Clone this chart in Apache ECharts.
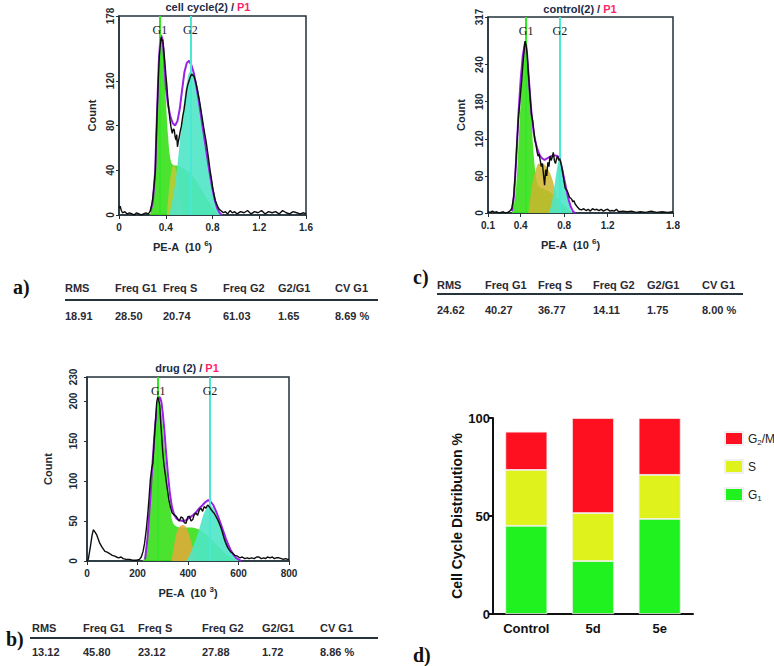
<!DOCTYPE html>
<html><head><meta charset="utf-8">
<script src="https://cdn.jsdelivr.net/npm/echarts@6/dist/echarts.min.js"></script>
<style>html,body{margin:0;padding:0;background:#fff}#c{width:774px;height:666px}</style>
</head><body><div id="c"></div>
<script>
// ---------------- DATA ----------------
// Panel a: cell cycle(2) / P1   (x in 10^6, y = count)
const aBlack = [[0,6],[0.01,8],[0.02,4],[0.03,2],[0.05,3],[0.07,1],[0.09,2],[0.11,1],[0.13,0],[0.15,2],[0.17,1],[0.19,0],[0.21,1],[0.23,2],[0.25,1],[0.265,3],[0.28,9],[0.29,16],[0.30,26],[0.31,38],[0.317,62],[0.325,88],[0.334,115],[0.345,142],[0.353,152],[0.36,159],[0.367,156],[0.374,157],[0.381,150],[0.388,142],[0.395,133],[0.402,124],[0.41,115],[0.416,106],[0.425,96],[0.436,85],[0.446,78],[0.456,73],[0.465,77],[0.473,76],[0.48,70],[0.488,67],[0.494,72],[0.5,61],[0.508,66],[0.516,70],[0.524,75],[0.533,79],[0.545,88],[0.556,94],[0.568,103],[0.579,112],[0.59,117],[0.602,121],[0.612,124],[0.622,126],[0.632,125],[0.642,124],[0.654,120],[0.665,115],[0.676,109],[0.687,103],[0.698,96],[0.71,88],[0.722,80],[0.733,73],[0.745,66],[0.756,58],[0.768,49],[0.779,40],[0.79,33],[0.801,25],[0.812,19],[0.824,13],[0.835,10],[0.847,7],[0.858,5],[0.87,4],[0.882,3],[0.893,2],[0.91,3],[0.93,1],[0.95,4],[0.97,2],[0.99,3],[1.01,1],[1.04,3],[1.07,2],[1.1,4],[1.13,1],[1.16,3],[1.19,2],[1.22,4],[1.25,1],[1.28,3],[1.31,2],[1.34,3],[1.37,1],[1.4,4],[1.43,2],[1.46,1],[1.49,3],[1.52,2],[1.55,1],[1.58,2],[1.6,1]];
const aFit = [[0.27,3],[0.29,12],[0.31,40],[0.325,90],[0.34,135],[0.35,152],[0.36,161],[0.37,158],[0.38,148],[0.39,132],[0.40,115],[0.42,98],[0.44,88],[0.46,82],[0.48,80],[0.50,84],[0.52,95],[0.54,112],[0.56,128],[0.58,136],[0.60,138],[0.62,134],[0.64,127],[0.66,116],[0.68,104],[0.70,90],[0.72,76],[0.74,62],[0.76,48],[0.78,35],[0.80,23],[0.82,13],[0.84,6],[0.86,2],[0.88,0]];
const aG1 = [[0.26,0],[0.28,5],[0.30,20],[0.32,70],[0.335,120],[0.35,150],[0.36,158],[0.37,155],[0.385,135],[0.40,105],[0.42,70],[0.44,50],[0.46,45],[0.50,44],[0.55,42],[0.60,38],[0.65,32],[0.70,24],[0.75,15],[0.80,7],[0.84,2],[0.86,0]];
const aS = [[0.41,0],[0.43,25],[0.45,40],[0.47,45],[0.49,40],[0.51,28],[0.53,12],[0.55,0]];
const aG2 = [[0.43,0],[0.46,15],[0.49,35],[0.52,65],[0.55,95],[0.58,118],[0.61,128],[0.64,126],[0.67,116],[0.70,98],[0.73,76],[0.76,53],[0.79,32],[0.82,15],[0.85,5],[0.88,0]];
const aMarkers = [0.351, 0.613];

// Panel c: control(2) / P1
const cBlack = [[0.10,2],[0.12,1],[0.14,3],[0.16,1],[0.18,2],[0.20,0],[0.22,1],[0.24,2],[0.26,0],[0.28,1],[0.30,3],[0.32,8],[0.335,25],[0.35,60],[0.365,110],[0.38,155],[0.395,185],[0.41,215],[0.425,250],[0.44,278],[0.45,272],[0.46,255],[0.47,228],[0.48,205],[0.49,180],[0.50,160],[0.51,150],[0.52,135],[0.53,118],[0.54,112],[0.55,100],[0.56,92],[0.57,95],[0.58,85],[0.59,75],[0.60,80],[0.61,62],[0.62,45],[0.63,70],[0.64,60],[0.65,82],[0.66,75],[0.67,92],[0.68,85],[0.69,90],[0.70,98],[0.71,85],[0.72,80],[0.73,88],[0.74,92],[0.75,85],[0.76,88],[0.77,80],[0.78,72],[0.79,62],[0.80,50],[0.81,40],[0.82,38],[0.83,35],[0.84,30],[0.85,25],[0.86,24],[0.87,22],[0.88,18],[0.89,20],[0.90,15],[0.92,10],[0.94,6],[0.96,5],[0.98,7],[1.0,4],[1.02,6],[1.04,3],[1.06,7],[1.08,5],[1.1,6],[1.12,4],[1.14,6],[1.16,3],[1.18,5],[1.2,6],[1.22,3],[1.24,4],[1.26,3],[1.28,6],[1.3,2],[1.34,3],[1.38,2],[1.42,3],[1.46,1],[1.5,2],[1.55,1],[1.6,3],[1.65,1],[1.7,2],[1.75,1],[1.8,2]];
const cFit = [[0.32,3],[0.34,30],[0.36,90],[0.38,160],[0.40,215],[0.42,255],[0.44,275],[0.45,272],[0.46,255],[0.48,205],[0.50,160],[0.52,130],[0.54,112],[0.56,100],[0.58,92],[0.60,88],[0.62,86],[0.64,88],[0.66,90],[0.68,92],[0.70,93],[0.72,93],[0.74,92],[0.76,86],[0.78,72],[0.80,55],[0.82,38],[0.84,22],[0.86,10],[0.88,3],[0.90,0]];
const cG1 = [[0.32,0],[0.34,15],[0.36,45],[0.38,110],[0.40,180],[0.42,240],[0.44,270],[0.45,272],[0.46,262],[0.48,215],[0.50,150],[0.52,95],[0.54,60],[0.56,45],[0.60,40],[0.65,36],[0.70,30],[0.75,22],[0.80,12],[0.85,4],[0.88,0]];
const cS = [[0.47,0],[0.49,25],[0.51,50],[0.54,70],[0.57,80],[0.60,80],[0.63,76],[0.66,68],[0.69,55],[0.72,35],[0.75,15],[0.78,0]];
const cG2 = [[0.66,0],[0.69,20],[0.72,55],[0.745,82],[0.762,90],[0.78,80],[0.80,60],[0.82,38],[0.84,18],[0.86,5],[0.88,0]];
const cMarkers = [0.446, 0.762];

// Panel b: drug (2) / P1   (x in 10^3)
const bBlack = [[0,0],[5,2],[12,15],[20,32],[25,39],[30,37],[38,33],[45,27],[51,22],[60,17],[71,12],[80,11],[91,9],[100,7],[110,6],[117,5],[125,4],[135,5],[143,3],[155,2],[169,2],[180,1],[196,1],[208,2],[215,5],[222,12],[228,22],[235,40],[241,60],[246,80],[251,102],[256,115],[261,123],[266,150],[272,178],[276,198],[280,205],[285,200],[288,195],[291,178],[296,155],[300,136],[305,120],[311,106],[318,90],[324,77],[330,68],[337,60],[345,58],[353,56],[360,52],[366,50],[372,55],[379,54],[385,48],[392,47],[399,55],[406,56],[412,50],[419,52],[425,58],[432,60],[438,57],[445,64],[451,66],[458,62],[464,68],[471,66],[478,70],[484,68],[490,65],[497,62],[503,60],[510,56],[517,52],[524,47],[530,42],[537,35],[543,28],[550,22],[557,17],[563,14],[570,11],[576,10],[586,7],[596,6],[605,4],[615,5],[625,3],[635,4],[642,3],[652,4],[662,3],[672,5],[681,5],[690,3],[700,4],[707,3],[715,5],[725,4],[734,5],[742,3],[750,4],[760,4],[770,3],[778,2],[786,3],[795,2],[800,2]];
const bFit = [[230,2],[240,30],[250,75],[260,125],[270,170],[278,195],[285,205],[290,204],[295,198],[300,185],[306,165],[312,140],[320,110],[328,85],[336,68],[345,58],[355,53],[365,51],[379,50],[392,51],[405,54],[419,57],[432,61],[445,66],[458,70],[470,74],[480,76],[490,74],[500,70],[510,63],[520,55],[530,46],[540,37],[550,28],[560,20],[570,13],[580,8],[590,4],[600,2],[610,0]];
const bG1 = [[220,0],[228,5],[236,20],[244,50],[252,90],[260,130],[268,168],[276,192],[284,200],[292,192],[300,170],[308,140],[316,110],[324,82],[332,60],[340,48],[350,44],[370,42],[400,42],[430,41],[460,36],[490,28],[520,18],[550,9],[580,3],[600,0]];
const bS = [[335,0],[345,20],[355,35],[367,43],[380,45],[393,42],[405,32],[418,18],[430,5],[436,0]];
const bG2 = [[395,0],[410,10],[425,22],[440,35],[455,52],[470,64],[487,70],[500,66],[515,56],[530,43],[545,30],[560,18],[575,9],[590,3],[605,0]];
const bMarkers = [282, 487];

// Tick labels
const aXTicks = [0, 0.4, 0.8, 1.2, 1.6];
const aYTicks = [0, 40, 80, 120, 178];
const cXTicks = [0.1, 0.4, 0.8, 1.2, 1.8];
const cYTicks = [0, 60, 120, 180, 240, 317];
const bXTicks = [0, 200, 400, 600, 800];
const bYTicks = [0, 50, 100, 150, 200, 230];

// Tables
const tableHeaders = ['RMS', 'Freq G1', 'Freq S', 'Freq G2', 'G2/G1', 'CV G1'];
const tableA = ['18.91', '28.50', '20.74', '61.03', '1.65', '8.69 %'];
const tableC = ['24.62', '40.27', '36.77', '14.11', '1.75', '8.00 %'];
const tableB = ['13.12', '45.80', '23.12', '27.88', '1.72', '8.86 %'];

// Panel d: stacked bars
const dCategories = ['Control', '5d', '5e'];
const dG1 = [45, 27, 48.5];
const dS = [28.5, 24.5, 22.5];
const dG2M = [19.5, 48.5, 29];

// ---------------- CHART ----------------
const AX = '#23323a';
const LBL = '#1d2a31';
const SANS = 'Liberation Sans, Arial, sans-serif';
const NARROW = 'Liberation Sans Narrow, Liberation Sans, Arial, sans-serif';
const SERIF = 'Liberation Serif, Times New Roman, serif';

function histXAxis(grid, min, max, ticks, nameSup, namePad) {
  return {
    gridIndex: grid, type: 'value', min: min, max: max,
    axisLine: {show: true, lineStyle: {color: AX, width: 1.5}},
    axisTick: {show: true, length: 4, lineStyle: {color: AX}, customValues: ticks},
    axisLabel: {color: LBL, fontSize: 10, fontWeight: 'bold', fontFamily: SANS, margin: 7, customValues: ticks},
    splitLine: {show: false},
    name: 'PE-A  (10 {sup|' + nameSup + '})', nameLocation: 'middle', nameGap: 24,
    nameTextStyle: {color: LBL, fontSize: 11, fontWeight: 'bold', fontFamily: SANS, padding: namePad,
      rich: {sup: {fontSize: 8, fontWeight: 'bold', color: LBL, fontFamily: SANS, padding: [0, 0, 8, 0]}}}
  };
}
function histYAxis(grid, max, ticks, gap, margin) {
  return {
    gridIndex: grid, type: 'value', min: 0, max: max,
    axisLine: {show: true, lineStyle: {color: AX, width: 1.5}},
    axisTick: {show: true, length: 3, lineStyle: {color: AX}, customValues: ticks},
    axisLabel: {color: LBL, fontSize: 10, fontWeight: 'bold', fontFamily: SANS, rotate: 90, margin: margin, customValues: ticks},
    splitLine: {show: false},
    name: 'Count', nameLocation: 'middle', nameGap: gap, nameRotate: 90,
    nameTextStyle: {color: LBL, fontSize: 11, fontWeight: 'bold', fontFamily: SANS}
  };
}
function fill(idx, data, color, opacity, z) {
  return {type: 'line', xAxisIndex: idx, yAxisIndex: idx, data: data, smooth: 0.4, showSymbol: false,
    silent: true, z: z, lineStyle: {width: 0}, areaStyle: {color: color, opacity: opacity}};
}
function marker(idx, x, label, color) {
  return {type: 'line', xAxisIndex: idx, yAxisIndex: idx, data: [], z: 2, silent: true,
    markLine: {silent: true, symbol: 'none', animation: false,
      lineStyle: {color: color, width: 2, type: 'solid'},
      label: {show: true, position: 'end', distance: -20, formatter: label, color: '#1a1a1a',
        fontFamily: SERIF, fontSize: 12},
      data: [{xAxis: x}]}};
}
function lineS(idx, data, color, width, z) {
  return {type: 'line', xAxisIndex: idx, yAxisIndex: idx, data: data, showSymbol: false, silent: true,
    z: z, lineStyle: {color: color, width: width}};
}
function panelSeries(idx, black, fit, g1, s, g2, markers, sColor, sOpacity) {
  return [
    fill(idx, g1, '#3de01e', 0.92, 1),
    fill(idx, s, sColor, sOpacity, 3),
    fill(idx, g2, '#4fe6c6', 0.9, 3),
    marker(idx, markers[0], 'G1', '#35e626'),
    marker(idx, markers[1], 'G2', '#48e8d2'),
    lineS(idx, fit, '#9a22e6', 2, 4),
    lineS(idx, black, '#0d0d0d', 1.4, 5)
  ];
}

// Layout of the text blocks
const colA = [65, 115, 163, 223, 278, 335];
const colC = [437, 485, 538, 593, 647, 702];
const colB = [32, 83, 138, 202, 262, 320];
function tableGraphics(cols, values, yHead, yLine, yVal, x0, x1) {
  const g = [];
  tableHeaders.forEach((h, i) => g.push({type: 'text', x: cols[i], y: yHead,
    style: {text: h, fill: '#2a2a33', font: 'bold 11px ' + SANS, verticalAlign: 'middle'}}));
  g.push({type: 'line', shape: {x1: x0, y1: yLine, x2: x1, y2: yLine}, style: {stroke: '#27343c', lineWidth: 2}});
  values.forEach((v, i) => g.push({type: 'text', x: cols[i], y: yVal,
    style: {text: v, fill: '#2a2a33', font: 'bold 11px ' + SANS, verticalAlign: 'middle'}}));
  return g;
}
function titleGraphic(x, y, name) {
  return {type: 'text', x: x, y: y, style: {text: '{d|' + name + ' / }{p|P1}', align: 'center', verticalAlign: 'middle',
    rich: {d: {fill: '#1c2a48', font: 'bold 11px ' + SANS}, p: {fill: '#ff1f6a', font: 'bold 11px ' + SANS}}}};
}
function letter(t, x, y) {
  return {type: 'text', x: x, y: y, style: {text: t, fill: '#111', font: 'bold 20px ' + SERIF, verticalAlign: 'middle'}};
}

const graphics = [].concat(
  tableGraphics(colA, tableA, 288, 300, 316, 65, 378),
  tableGraphics(colC, tableC, 285, 294, 310, 437, 743),
  tableGraphics(colB, tableB, 628, 638, 652, 30, 378),
  [titleGraphic(208, 7, 'cell cycle(2)'), titleGraphic(580, 9, 'control(2)'), titleGraphic(187, 368, 'drug (2)'),
   letter('a)', 13, 287), letter('c)', 413, 277), letter('b)', 6, 639), letter('d)', 413, 655)]
);

const option = {
  animation: false,
  backgroundColor: '#fff',
  grid: [
    {left: 119, top: 16, width: 187, height: 199, show: true, borderColor: AX, borderWidth: 1.5, backgroundColor: 'transparent'},
    {left: 488, top: 17, width: 185, height: 196, show: true, borderColor: AX, borderWidth: 1.5, backgroundColor: 'transparent'},
    {left: 87, top: 377, width: 202, height: 184, show: true, borderColor: AX, borderWidth: 1.5, backgroundColor: 'transparent'},
    {left: 493, top: 418, width: 200, height: 196}
  ],
  xAxis: [
    histXAxis(0, 0, 1.6, aXTicks, '6', [0, 60, 0, 0]),
    histXAxis(1, 0.1, 1.8, cXTicks, '6', [0, 20, 0, 0]),
    histXAxis(2, 0, 800, bXTicks, '3', [0, 0, 0, 0]),
    {gridIndex: 3, type: 'category', data: dCategories,
      axisLine: {lineStyle: {color: '#111', width: 2}},
      axisTick: {alignWithLabel: true, length: 5, lineStyle: {color: '#111', width: 2}},
      axisLabel: {color: '#111', fontSize: 13, fontWeight: 'bold', fontFamily: NARROW, margin: 8}}
  ],
  yAxis: [
    histYAxis(0, 178, aYTicks, 22, 4),
    histYAxis(1, 317, cYTicks, 22, 4),
    histYAxis(2, 230, bYTicks, 34, 9),
    {gridIndex: 3, type: 'value', min: 0, max: 100, interval: 50,
      axisLine: {show: true, lineStyle: {color: '#111', width: 2}},
      axisTick: {show: true, length: 5, lineStyle: {color: '#111', width: 2}},
      axisLabel: {color: '#111', fontSize: 13, fontWeight: 'bold', fontFamily: NARROW, margin: 3},
      splitLine: {show: false},
      name: 'Cell Cycle Distribution %', nameLocation: 'middle', nameGap: 26, nameRotate: 90,
      nameTextStyle: {color: '#111', fontSize: 14, fontWeight: 'bold', fontFamily: SANS}}
  ],
  legend: {
    orient: 'vertical', left: 719, top: 426, itemWidth: 18, itemHeight: 13, itemGap: 13,
    icon: 'rect', data: ['G2/M', 'S', 'G1'],
    formatter: n => n === 'G2/M' ? '{b|G}{s|2}{b|/M}' : (n === 'G1' ? '{b|G}{s|1}' : '{b|S}'),
    textStyle: {color: '#222', fontFamily: SANS, fontSize: 12,
      rich: {b: {fontSize: 12, fontFamily: SANS, color: '#222'}, s: {fontSize: 8, fontFamily: SANS, color: '#222', padding: [7, 0, 0, 0]}}}
  },
  graphic: graphics,
  series: [].concat(
    panelSeries(0, aBlack, aFit, aG1, aS, aG2, aMarkers, '#d8c43a', 0.7),
    panelSeries(1, cBlack, cFit, cG1, cS, cG2, cMarkers, '#cdb52c', 0.85),
    panelSeries(2, bBlack, bFit, bG1, bS, bG2, bMarkers, '#e6a83a', 0.85),
    [
      {name: 'G1', type: 'bar', stack: 'd', xAxisIndex: 3, yAxisIndex: 3, data: dG1, barWidth: 42,
        itemStyle: {color: '#1ff21f', borderColor: '#f0f0f0', borderWidth: 0.8}},
      {name: 'S', type: 'bar', stack: 'd', xAxisIndex: 3, yAxisIndex: 3, data: dS, barWidth: 42,
        itemStyle: {color: '#dff21c', borderColor: '#f0f0f0', borderWidth: 0.8}},
      {name: 'G2/M', type: 'bar', stack: 'd', xAxisIndex: 3, yAxisIndex: 3, data: dG2M, barWidth: 42,
        itemStyle: {color: '#ff1020', borderColor: '#f0f0f0', borderWidth: 0.8}}
    ]
  )
};

const chart = echarts.init(document.getElementById('c'), null, {renderer: 'svg', width: 774, height: 666});
chart.setOption(option);
</script></body></html>
